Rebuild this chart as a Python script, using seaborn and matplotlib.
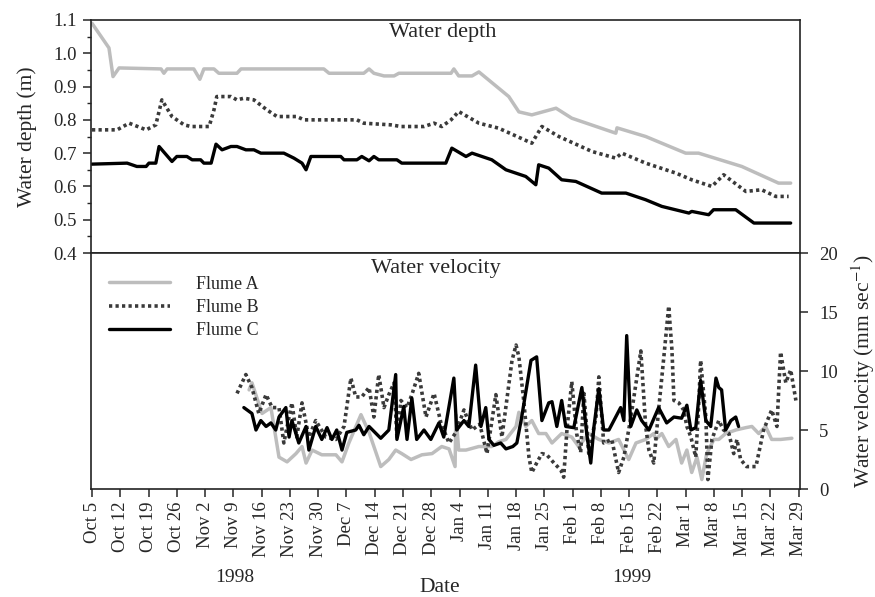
import numpy as np
import pandas as pd
import matplotlib
matplotlib.use("Agg")
import matplotlib.pyplot as plt
import seaborn as sns
from matplotlib.ticker import MultipleLocator

# ---------------- data (x = days since 5 Oct 1998) ----------------
start_date = "1998-10-05"

depth_a_day = [0, 4.2, 5.2, 6.7, 17.1, 17.8, 18.6, 25.2, 26.7, 27.7, 30.2, 31.4, 35.9, 36.9,
               57.4, 58.7, 67.3, 68.6, 69.8, 72.3, 74.8, 76.0, 88.9, 89.6, 90.8, 94.1, 95.8,
               103.2, 105.7, 108.9, 114.9, 118.8, 129.7, 130.0, 137.1, 147.0, 150.2, 160.9,
               170.0, 173.0]
depth_a = [1.09, 1.016, 0.93, 0.956, 0.953, 0.94, 0.953, 0.953, 0.922, 0.953, 0.953, 0.94,
           0.94, 0.953, 0.953, 0.94, 0.94, 0.953, 0.94, 0.932, 0.932, 0.94, 0.94, 0.953,
           0.932, 0.932, 0.944, 0.87, 0.824, 0.815, 0.835, 0.805, 0.76, 0.776, 0.75, 0.70,
           0.70, 0.66, 0.61, 0.61]

depth_b_day = [0, 6.2, 9.2, 13.4, 15.8, 17.3, 19.8, 22.8, 24.5, 29.0, 30.2, 30.9, 34.4, 35.9,
               37.6, 40.1, 43.3, 45.8, 50.7, 52.5, 65.6, 67.3, 74.0, 76.5, 82.2, 84.7, 86.6,
               88.9, 90.8, 95.8, 100.7, 108.9, 111.4, 115.6, 123.8, 129.7, 131.2, 137.1,
               144.6, 148.5, 153.5, 156.4, 161.9, 165.8, 169.3, 172.5]
depth_b = [0.77, 0.77, 0.79, 0.77, 0.785, 0.86, 0.81, 0.785, 0.78, 0.78, 0.83, 0.87, 0.87,
           0.86, 0.865, 0.86, 0.83, 0.81, 0.81, 0.80, 0.80, 0.79, 0.785, 0.78, 0.78, 0.79,
           0.78, 0.80, 0.825, 0.79, 0.775, 0.73, 0.78, 0.75, 0.705, 0.685, 0.70, 0.67, 0.64,
           0.62, 0.60, 0.635, 0.585, 0.59, 0.57, 0.57]

depth_c_day = [0, 8.7, 11.1, 13.4, 14.1, 15.8, 16.6, 19.8, 21.0, 23.5, 24.8, 26.9, 27.7, 29.5,
               30.7, 32.2, 34.4, 35.9, 38.1, 40.1, 41.8, 47.5, 50.0, 52.0, 53.0, 54.2, 61.6,
               62.4, 65.6, 66.8, 68.6, 69.8, 71.0, 75.5, 76.7, 87.6, 89.1, 92.6, 94.1, 99.0,
               102.5, 107.4, 109.9, 110.6, 113.1, 116.3, 119.8, 126.2, 132.2, 137.1, 141.1,
               147.8, 148.5, 152.7, 153.9, 159.4, 163.9, 173.0]
depth_c = [0.667, 0.67, 0.66, 0.66, 0.67, 0.67, 0.72, 0.675, 0.69, 0.69, 0.68, 0.68, 0.67,
           0.67, 0.727, 0.71, 0.72, 0.72, 0.71, 0.71, 0.70, 0.70, 0.685, 0.67, 0.65, 0.69,
           0.69, 0.68, 0.68, 0.69, 0.677, 0.69, 0.68, 0.68, 0.67, 0.67, 0.715, 0.69, 0.70,
           0.68, 0.65, 0.63, 0.605, 0.665, 0.655, 0.62, 0.615, 0.58, 0.58, 0.56, 0.54, 0.52,
           0.525, 0.515, 0.53, 0.53, 0.49, 0.49]

vel_a_day = [38.9, 39.6, 42.1, 44.3, 46.3, 48.3, 50.5, 52.0, 53.0, 54.5, 56.9, 60.4, 61.9,
             63.6, 66.6, 68.6, 71.5, 73.5, 75.2, 76.7, 79.0, 81.7, 84.2, 86.6, 88.4, 89.9,
             90.1, 90.8, 92.6, 95.8, 99.0, 100.7, 102.5, 105.0, 105.7, 107.4, 108.9, 110.6,
             112.4, 113.9, 116.3, 118.8, 120.5, 123.0, 125.5, 128.0, 130.4, 132.9, 134.7,
             137.1, 139.1, 139.6, 141.1, 142.8, 144.6, 146.0, 147.3, 148.5, 149.8, 151.0,
             152.2, 154.0, 155.2, 156.9, 159.4, 161.9, 163.4, 165.1, 166.8, 168.3, 170.5,
             173.3]
vel_a = [8.4, 9.0, 6.4, 6.9, 2.7, 2.3, 3.0, 3.6, 2.2, 3.3, 2.9, 2.9, 2.3, 3.9, 6.3, 4.8, 1.9,
         2.5, 3.3, 3.0, 2.5, 2.9, 3.0, 3.6, 3.4, 1.9, 6.3, 3.3, 3.3, 3.6, 3.6, 4.0, 4.2, 5.3,
         6.5, 5.3, 5.8, 4.7, 4.7, 3.9, 4.7, 4.4, 3.6, 4.7, 4.2, 3.9, 4.2, 2.5, 3.9, 4.2, 4.7,
         4.2, 4.7, 3.6, 4.2, 2.2, 3.3, 1.4, 2.7, 0.8, 3.0, 4.2, 4.2, 4.7, 5.0, 5.2, 5.3, 4.7,
         5.3, 4.2, 4.2, 4.3]

vel_b_day = [35.9, 38.1, 39.6, 41.3, 43.1, 44.6, 46.3, 47.5, 49.5, 50.7, 52.0, 53.7, 55.4,
             57.9, 60.4, 62.4, 64.1, 65.3, 66.8, 68.6, 69.8, 71.0, 72.3, 73.5, 74.8, 75.5,
             76.5, 78.0, 79.2, 80.9, 82.7, 84.7, 86.4, 88.4, 90.1, 92.1, 94.1, 96.0, 97.8,
             100.0, 101.5, 104.0, 105.0, 105.7, 106.9, 108.2, 108.9, 110.1, 111.4, 112.6,
             114.4, 116.1, 116.8, 117.6, 118.8, 120.0, 121.0, 121.8, 123.0, 124.8, 125.5,
             126.7, 128.7, 130.4, 131.7, 133.4, 135.9, 137.1, 137.9, 139.1, 140.3, 141.6,
             142.8, 143.6, 144.1, 145.3, 146.5, 147.3, 148.3, 149.5, 150.2, 150.7, 152.0,
             152.5, 153.5, 155.2, 156.4, 157.7, 158.9, 159.7, 160.6, 162.1, 164.4, 166.3,
             168.3, 169.6, 170.5, 171.8, 173.0, 174.3]
vel_b = [8.1, 9.7, 8.6, 6.4, 8.0, 6.9, 6.9, 3.9, 7.3, 4.4, 7.3, 4.4, 5.8, 4.4, 4.2, 5.3, 9.4,
         7.8, 7.8, 8.6, 6.1, 9.7, 6.9, 8.0, 9.0, 4.4, 7.5, 6.9, 8.0, 9.8, 6.1, 8.1, 5.6, 3.9,
         4.8, 6.7, 5.0, 5.5, 3.0, 8.0, 4.4, 10.9, 12.2, 11.2, 7.5, 2.7, 1.4, 2.2, 3.0, 2.9,
         2.2, 1.6, 1.0, 5.0, 9.1, 4.7, 3.1, 8.1, 3.0, 6.1, 9.5, 3.9, 4.2, 1.4, 2.7, 6.0, 11.7,
         5.3, 3.3, 2.2, 6.7, 11.2, 15.5, 11.8, 7.5, 7.3, 6.7, 5.3, 4.4, 2.7, 6.9, 10.9, 6.1,
         0.8, 4.2, 5.8, 5.0, 4.7, 3.0, 4.2, 2.5, 1.9, 1.9, 5.0, 6.7, 5.3, 11.6, 9.0, 10.1, 7.5]

vel_c_day = [37.6, 39.6, 40.6, 41.8, 43.1, 44.3, 45.5, 46.3, 48.0, 48.8, 49.5, 51.2, 53.0,
             53.7, 55.4, 56.9, 58.2, 59.4, 60.6, 61.9, 63.1, 65.3, 66.1, 67.3, 68.6, 71.5,
             73.5, 75.2, 75.5, 77.2, 78.0, 79.2, 80.4, 82.2, 83.9, 85.9, 87.1, 89.6, 90.3,
             92.1, 93.3, 95.0, 96.3, 97.5, 98.3, 99.5, 101.2, 102.5, 104.2, 105.2, 106.4,
             108.7, 110.1, 111.4, 113.1, 113.9, 115.1, 116.3, 117.3, 119.3, 121.3, 122.5,
             123.5, 124.3, 125.5, 126.7, 128.0, 130.9, 131.7, 132.4, 133.4, 134.9, 136.1,
             137.9, 140.3, 142.3, 144.1, 146.0, 147.3, 148.3, 149.5, 150.7, 152.0, 153.2,
             154.5, 155.2, 155.9, 156.9, 158.2, 159.4, 160.1]
vel_c = [6.9, 6.4, 5.0, 5.8, 5.3, 5.6, 5.0, 6.1, 6.9, 4.4, 5.8, 3.9, 5.3, 3.3, 5.3, 4.2, 5.2,
         4.2, 5.0, 3.3, 4.8, 5.0, 5.4, 4.6, 5.3, 4.3, 5.0, 9.7, 4.2, 7.0, 4.2, 7.7, 4.2, 5.0,
         4.2, 5.6, 4.4, 9.4, 5.0, 5.8, 5.3, 10.5, 5.3, 6.9, 4.2, 3.7, 3.9, 3.4, 3.6, 3.9, 6.1,
         10.9, 11.2, 5.8, 7.3, 7.4, 5.3, 7.5, 5.3, 5.2, 8.6, 4.7, 2.2, 5.3, 8.5, 5.0, 5.0,
         6.9, 5.8, 13.0, 5.3, 6.7, 5.8, 5.0, 6.9, 5.6, 6.1, 6.0, 7.1, 5.0, 5.2, 9.2, 5.8, 5.3,
         9.4, 8.6, 8.4, 5.0, 5.8, 6.1, 5.3]

flumes = ["Flume A", "Flume B", "Flume C"]
week_labels = ["Oct 5", "Oct 12", "Oct 19", "Oct 26", "Nov 2", "Nov 9", "Nov 16", "Nov 23",
               "Nov 30", "Dec 7", "Dec 14", "Dec 21", "Dec 28", "Jan 4", "Jan 11", "Jan 18",
               "Jan 25", "Feb 1", "Feb 8", "Feb 15", "Feb 22", "Mar 1", "Mar 8", "Mar 15",
               "Mar 22", "Mar 29"]
depth_ticks = [0.4, 0.5, 0.6, 0.7, 0.8, 0.9, 1.0, 1.1]
vel_ticks = [0, 5, 10, 15, 20]

# ---------------- style ----------------
sns.set_theme(style="ticks")
plt.rcParams["font.family"] = ["Liberation Serif", "DejaVu Serif"]
plt.rcParams["mathtext.fontset"] = "stix"
plt.rcParams["axes.linewidth"] = 1.2

colors = {"Flume A": "#bdbdbd", "Flume B": "#3a3a3a", "Flume C": "#000000"}
styles = {"Flume A": "-", "Flume B": (0, (0.9, 0.9)), "Flume C": "-"}
widths = {"Flume A": 2.5, "Flume B": 2.6, "Flume C": 2.4}

t0 = pd.Timestamp(start_date)
def to_dates(days):
    return t0 + pd.to_timedelta(np.asarray(days, dtype=float), unit="D")

fig = plt.figure(figsize=(8.75, 5.97), dpi=100)
ax1 = fig.add_axes([0.104, 0.5762, 0.810, 0.3903])
ax2 = fig.add_axes([0.104, 0.1809, 0.810, 0.3953])

depth_sets = [(depth_a_day, depth_a), (depth_b_day, depth_b), (depth_c_day, depth_c)]
vel_sets = [(vel_a_day, vel_a), (vel_b_day, vel_b), (vel_c_day, vel_c)]

for name, (d, v) in zip(flumes, depth_sets):
    df = pd.DataFrame({"date": to_dates(d), "value": v})
    sns.lineplot(data=df, x="date", y="value", ax=ax1, color=colors[name],
                 linestyle=styles[name], linewidth=widths[name], estimator=None,
                 sort=False, legend=False)

for name, (d, v) in zip(flumes, vel_sets):
    df = pd.DataFrame({"date": to_dates(d), "value": v})
    sns.lineplot(data=df, x="date", y="value", ax=ax2, color=colors[name],
                 linestyle=styles[name], linewidth=widths[name], estimator=None,
                 sort=False, label=name)

xmin = t0 - pd.Timedelta(hours=6)
xmax = t0 + pd.Timedelta(days=175, hours=6)
week_pos = [t0 + pd.Timedelta(days=7 * i) for i in range(len(week_labels))]

# top panel
ax1.set_xlim(xmin, xmax)
ax1.set_ylim(0.4, 1.1)
ax1.set_yticks(depth_ticks)
ax1.set_yticklabels([f"{t:.1f}" for t in depth_ticks])
ax1.yaxis.set_minor_locator(MultipleLocator(0.05))
ax1.tick_params(axis="y", which="major", direction="out", length=6, width=1.1,
                labelsize=13.5, pad=4)
ax1.tick_params(axis="y", which="minor", direction="out", length=3, width=1.0)
ax1.set_xticks([])
ax1.set_xlabel("")
ax1.set_ylabel("Water depth (m)", fontsize=15.5, labelpad=12)
ax1.text(0.496, 0.985, "Water depth", transform=ax1.transAxes, ha="center", va="top",
         fontsize=16)

# bottom panel
ax2.set_xlim(xmin, xmax)
ax2.set_ylim(0, 20)
ax2.yaxis.tick_right()
ax2.yaxis.set_label_position("right")
ax2.set_yticks(vel_ticks)
ax2.set_yticklabels([str(t) for t in vel_ticks])
ax2.tick_params(axis="y", direction="out", length=6, width=1.1, labelsize=13.5, pad=8)
ax2.set_ylabel("Water velocity (mm sec$^{-1}$)", fontsize=15.5, labelpad=8)
ax2.set_xticks(week_pos)
ax2.set_xticklabels(week_labels, rotation=90, fontsize=13.5)
ax2.tick_params(axis="x", direction="out", length=6, width=1.1, pad=3)
ax2.set_xlabel("")
ax2.text(0.487, 0.975, "Water velocity", transform=ax2.transAxes, ha="center", va="top",
         fontsize=16)

for ax in (ax1, ax2):
    for s in ax.spines.values():
        s.set_visible(True)
        s.set_color("#222222")
        s.set_linewidth(1.2)

leg = ax2.legend(loc="upper left", frameon=False, fontsize=13, handlelength=3.4,
                 handletextpad=1.4, labelspacing=0.35, borderaxespad=0.6,
                 bbox_to_anchor=(0.0, 0.98))

fig.text(440 / 875, 1 - 588 / 597, "Date", ha="center", va="center", fontsize=15.5)
fig.text(235 / 875, 1 - 578 / 597, "1998", ha="center", va="center", fontsize=14)
fig.text(632 / 875, 1 - 578 / 597, "1999", ha="center", va="center", fontsize=14)

fig.savefig("out.png", dpi=100)
